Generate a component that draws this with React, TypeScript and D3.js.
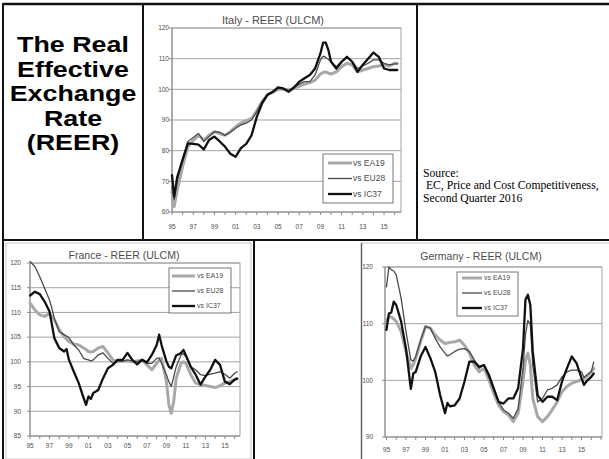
import React from 'react';
import * as d3 from 'd3';

const SERIES_NAMES = ['vs EA19', 'vs EU28', 'vs IC37'];
const X_LABEL_YEARS = [1995, 1997, 1999, 2001, 2003, 2005, 2007, 2009, 2011, 2013, 2015];
const X_LABELS = ['95', '97', '99', '01', '03', '05', '07', '09', '11', '13', '15'];
const TITLE_LINES = ['The Real', 'Effective', 'Exchange', 'Rate', '(REER)'];
const SOURCE_LINES = ['Source:', '\u00a0EC, Price and Cost Competitiveness,', 'Second Quarter 2016'];

// ---- Italy ----
const italyPeriods = [1995.0, 1995.2, 1995.5, 1996.0, 1996.5, 1997.0, 1997.5, 1998.0, 1998.5, 1999.0, 1999.5, 2000.0, 2000.5, 2001.0, 2001.5, 2002.0, 2002.5, 2003.0, 2003.5, 2004.0, 2004.5, 2005.0, 2005.5, 2006.0, 2006.5, 2007.0, 2007.5, 2008.0, 2008.5, 2009.0, 2009.25, 2009.5, 2009.75, 2010.0, 2010.5, 2011.0, 2011.5, 2012.0, 2012.5, 2013.0, 2013.5, 2014.0, 2014.5, 2015.0, 2015.5, 2016.0, 2016.25];
const italyEA19 = [66.6, 61.7, 67.2, 74.8, 81.3, 83.3, 85, 83.5, 85, 86.2, 85.6, 85, 86.2, 87.8, 89, 89.8, 90.5, 93, 96, 98.2, 99, 100, 100, 99.8, 100.3, 101, 101.7, 102.2, 103, 105, 105.5, 105.7, 105.3, 105, 105.7, 107.4, 108.5, 108, 105.7, 106.3, 106.8, 107.4, 107.6, 108, 107.6, 108.5, 108.5];
const italyEU28 = [68.3, 64, 70.4, 77.5, 83, 84.3, 85.6, 83, 84.6, 86.2, 86, 85, 86, 87.3, 88.4, 89, 90, 92.7, 96, 98.2, 99.2, 100.3, 100.3, 99.6, 100.6, 101.7, 102.5, 102.5, 104.7, 109.6, 110.8, 110.4, 109.8, 109, 107.4, 109, 110.4, 109, 106.8, 107.6, 108.5, 109.6, 109.6, 108.5, 108, 108.3, 108.3];
const italyIC37 = [72, 65, 71.5, 77, 82.4, 82.2, 82, 80.4, 83.5, 84.6, 83, 81.3, 79, 78, 80.8, 82.2, 85, 91, 95.4, 98.2, 99.2, 100.6, 100.3, 99.2, 100.6, 102.5, 103.6, 104.7, 106.8, 111.7, 115.2, 115.2, 112.8, 109, 106.8, 109, 110.6, 109, 105.7, 108, 110, 112, 110.6, 106.8, 106.3, 106.3, 106.3];
const italyYTicks = [60, 70, 80, 90, 100, 110, 120];

// ---- France ----
const francePeriods = [1995.0, 1995.5, 1996.0, 1996.5, 1997.0, 1997.25, 1997.5, 1998.0, 1998.5, 1998.75, 1999.0, 1999.5, 2000.0, 2000.5, 2000.75, 2001.0, 2001.25, 2001.5, 2002.0, 2002.5, 2003.0, 2003.5, 2004.0, 2004.5, 2005.0, 2005.5, 2006.0, 2006.5, 2007.0, 2007.5, 2008.0, 2008.25, 2008.5, 2009.0, 2009.25, 2009.5, 2009.75, 2010.0, 2010.5, 2010.75, 2011.0, 2011.5, 2012.0, 2012.5, 2013.0, 2013.5, 2014.0, 2014.5, 2015.0, 2015.5, 2016.0, 2016.25];
const franceEA19 = [111.9, 110.5, 109.5, 109.2, 109.8, 109.2, 108.5, 106.5, 105.1, 104.6, 104.1, 103.6, 103.4, 102.8, 102.5, 102.1, 102, 102.1, 102.8, 103.1, 101.8, 100.4, 100.1, 100.1, 100.2, 100, 100.2, 100.4, 99.4, 98.4, 99.7, 100.3, 100.7, 96, 91.3, 89.6, 92, 96.7, 99.7, 100, 99.7, 97.4, 95.7, 95.4, 95.2, 95, 94.8, 95.2, 95.7, 96, 96.4, 96.6];
const franceEU28 = [120.3, 119.3, 117.2, 114.9, 112.5, 110.8, 108.8, 106.1, 105.5, 105.2, 104.9, 103.4, 102.4, 100.7, 100.5, 100.4, 100.2, 100.4, 101.4, 101.8, 100.7, 99.7, 100.2, 100.1, 100.4, 100.2, 100, 100.4, 99.7, 99.7, 100.7, 100.8, 99.7, 97.4, 96, 95, 97, 99, 101.4, 101.6, 101.1, 99, 98.4, 97.4, 97.2, 97.5, 97.7, 98, 97.5, 96.7, 97.7, 98];
const franceIC37 = [113.4, 114.2, 113.7, 112.2, 110.2, 107.5, 104.8, 102.8, 102.1, 102.6, 100.4, 98, 95.7, 92.7, 91.3, 93, 92.5, 93.7, 94.3, 96.7, 98.7, 99.4, 100.4, 100.4, 101.8, 100.4, 99.5, 100.4, 99.9, 101.4, 103.4, 105.5, 103.4, 100.1, 99, 98.7, 100, 101.3, 101.8, 102.4, 101.3, 99, 97.4, 95.4, 97, 98.4, 100.4, 99.4, 96, 95.5, 96.4, 96.6];
const franceYTicks = [85, 90, 95, 100, 105, 110, 115, 120];

// ---- Germany ----
const germanyPeriods = [1995.0, 1995.25, 1995.5, 1995.75, 1996.0, 1996.5, 1997.0, 1997.5, 1997.75, 1998.0, 1998.5, 1999.0, 1999.5, 2000.0, 2000.5, 2001.0, 2001.25, 2001.5, 2002.0, 2002.5, 2003.0, 2003.5, 2004.0, 2004.5, 2005.0, 2005.5, 2006.0, 2006.5, 2007.0, 2007.5, 2008.0, 2008.5, 2009.0, 2009.25, 2009.5, 2009.75, 2010.0, 2010.5, 2011.0, 2011.5, 2012.0, 2012.5, 2013.0, 2013.5, 2014.0, 2014.5, 2015.0, 2015.25, 2015.5, 2016.0, 2016.25];
const germanyEA19 = [110.4, 111.2, 111.2, 110.8, 110.4, 108.6, 105.1, 102.1, 102.8, 103.9, 106.8, 109.5, 109.2, 108, 107.1, 106.5, 106.6, 106.7, 106.8, 107.1, 106.2, 104.8, 102.7, 101.5, 102.1, 100.1, 97.7, 95.6, 94.5, 93.9, 92.7, 94.2, 99.8, 103.5, 104.8, 102.7, 96.8, 93.6, 92.7, 93.6, 94.8, 96.2, 98, 98.9, 99.5, 99.8, 100.1, 100.3, 100.6, 101.5, 102.1];
const germanyEU28 = [116.5, 120, 119.5, 119.3, 118.6, 114.5, 108.6, 103.6, 103.4, 104.2, 107.1, 109.5, 109.2, 107.4, 105.9, 104.8, 104.3, 104.5, 105.1, 105.5, 105.6, 105.1, 103.6, 102.1, 102.7, 100.6, 98.3, 96.2, 94.8, 94.2, 93.3, 95, 102.1, 108, 110.6, 109.8, 102.7, 96.2, 96.8, 98.3, 98.6, 99.2, 100.6, 101.5, 101.8, 101.8, 101.5, 100.5, 100.9, 101.5, 103.2];
const germanyIC37 = [108.9, 111.8, 112, 113.9, 113.3, 110.4, 105.6, 98.5, 101.2, 101.5, 104.2, 105.9, 103.9, 101.5, 97.4, 94.2, 96, 95.4, 95.6, 96.8, 99.8, 103.3, 103.3, 102.4, 102.7, 101, 98.6, 96.2, 95.9, 96.8, 96.8, 98.6, 105.6, 114.2, 115.1, 113.3, 105.1, 97.4, 96.2, 97.1, 97.1, 96.5, 99.8, 102.1, 104.2, 103, 100.4, 99.2, 99.8, 100.6, 101.2];
const germanyYTicks = [90, 100, 110, 120];

const SERIES_STYLE = [
  { stroke: '#a8a8a8', width: 3 },
  { stroke: '#4a4a4a', width: 1.3 },
  { stroke: '#111111', width: 2.3 },
];

const FONT = 'Arial, "Liberation Sans", Helvetica, sans-serif';
const TEXT_COLOR = '#4d4d4d';

type PanelProps = {
  title: string;
  titleX: number;
  titleY: number;
  titleSize: number;
  periods: number[];
  series: number[][];
  xDomain: [number, number];
  xRange: [number, number];
  yDomain: [number, number];
  yRange: [number, number];
  yTicks: number[];
  yLabelX: number;
  xLabelY: number;
  legend: { x: number; y: number; w: number; h: number; rows: number[]; lineX0: number; lineX1: number; textX: number; size: number };
};

function Panel(p: PanelProps) {
  const x = d3.scaleLinear().domain(p.xDomain).range(p.xRange);
  const y = d3.scaleLinear().domain(p.yDomain).range(p.yRange);
  const [xl, xr] = p.xRange;
  const [yb, yt] = p.yRange;
  const years = d3.range(1995, Math.floor(p.xDomain[1]) + 1);
  const line = d3
    .line<number>()
    .x((_, i) => x(p.periods[i]))
    .y((v) => y(v))
    .curve(d3.curveLinear);
  return (
    <g>
      <text x={p.titleX} y={p.titleY} textAnchor="middle" fontFamily={FONT} fontSize={p.titleSize} fill={TEXT_COLOR}>
        {p.title}
      </text>
      {p.yTicks.map((t) => (
        <g key={'g' + t}>
          {t !== p.yDomain[0] && (
            <line x1={xl} x2={xr} y1={y(t)} y2={y(t)} stroke="#a3a3a3" strokeWidth={1} />
          )}
          <line x1={xl - 3} x2={xl} y1={y(t)} y2={y(t)} stroke="#888" strokeWidth={1} />
          <text x={p.yLabelX} y={y(t) + 2.3} textAnchor="end" fontFamily={FONT} fontSize={6.5} fill={TEXT_COLOR}>
            {t}
          </text>
        </g>
      ))}
      <rect x={xl} y={yt} width={xr - xl} height={yb - yt} fill="none" stroke="#a3a3a3" strokeWidth={1} />
      <line x1={xl} x2={xr} y1={yb} y2={yb} stroke="#888" strokeWidth={1} />
      <line x1={xl} x2={xl} y1={yt} y2={yb} stroke="#888" strokeWidth={1} />
      {years.map((yr) => (
        <line key={'t' + yr} x1={x(yr)} x2={x(yr)} y1={yb} y2={yb + 3} stroke="#888" strokeWidth={1} />
      ))}
      {X_LABEL_YEARS.map((yr, i) => (
        <text key={'xl' + yr} x={x(yr)} y={p.xLabelY} textAnchor="middle" fontFamily={FONT} fontSize={6.5} fill={TEXT_COLOR}>
          {X_LABELS[i]}
        </text>
      ))}
      {p.series.map((s, i) => (
        <path
          key={'s' + i}
          d={line(s) || ''}
          fill="none"
          stroke={SERIES_STYLE[i].stroke}
          strokeWidth={SERIES_STYLE[i].width}
          strokeLinejoin="round"
          strokeLinecap="round"
        />
      ))}
      <rect x={p.legend.x} y={p.legend.y} width={p.legend.w} height={p.legend.h} fill="#fff" stroke="#555" strokeWidth={0.8} />
      {SERIES_NAMES.map((n, i) => (
        <g key={'lg' + i}>
          <line
            x1={p.legend.lineX0}
            x2={p.legend.lineX1}
            y1={p.legend.rows[i]}
            y2={p.legend.rows[i]}
            stroke={SERIES_STYLE[i].stroke}
            strokeWidth={SERIES_STYLE[i].width}
          />
          <text x={p.legend.textX} y={p.legend.rows[i] + p.legend.size * 0.35} fontFamily={FONT} fontSize={p.legend.size} fill={TEXT_COLOR}>
            {n}
          </text>
        </g>
      ))}
    </g>
  );
}

export default function App() {
  return (
    <svg
      width={609}
      height={459}
      style={{ position: 'absolute', left: 0, top: 0, background: '#fff' }}
    >
      <rect x={0} y={0} width={609} height={459} fill="#fff" />
      {/* chart area frames */}
      <rect x={6} y={243} width={245} height={216} fill="none" stroke="#c8c8c8" strokeWidth={1} />
      <rect x={361.5} y={243} width={248} height={217} fill="none" stroke="#c8c8c8" strokeWidth={1} />
      <line x1={361.5} x2={361.5} y1={243} y2={459} stroke="#666" strokeWidth={1.5} />

      {/* left title */}
      {TITLE_LINES.map((t, i) => (
        <g key={'tl' + i} transform={`translate(73, ${52 + i * 24.6}) scale(1.22, 1)`}>
          <text x={0} y={0} textAnchor="middle" fontFamily={FONT} fontWeight="bold" fontSize={22} fill="#000">
            {t}
          </text>
        </g>
      ))}

      {/* source */}
      {SOURCE_LINES.map((t, i) => (
        <text key={'src' + i} x={423} y={177 + i * 12.3} fontFamily='"Liberation Serif", "Times New Roman", serif' fontSize={11.7} fill="#000">
          {t}
        </text>
      ))}

      <Panel
        title="Italy - REER (ULCM)"
        titleX={273}
        titleY={24}
        titleSize={11}
        periods={italyPeriods}
        series={[italyEA19, italyEU28, italyIC37]}
        xDomain={[1995, 2016.6]}
        xRange={[172, 401]}
        yDomain={[60, 120]}
        yRange={[212, 28]}
        yTicks={italyYTicks}
        yLabelX={169}
        xLabelY={228.5}
        legend={{ x: 323, y: 154, w: 70, h: 49, rows: [163, 178.5, 194], lineX0: 328, lineX1: 352, textX: 353, size: 8.5 }}
      />
      <Panel
        title="France - REER (ULCM)"
        titleX={124}
        titleY={259}
        titleSize={10.5}
        periods={francePeriods}
        series={[franceEA19, franceEU28, franceIC37]}
        xDomain={[1995, 2016.55]}
        xRange={[30, 240]}
        yDomain={[85, 120]}
        yRange={[436, 263]}
        yTicks={franceYTicks}
        yLabelX={21}
        xLabelY={447.5}
        legend={{ x: 169, y: 268, w: 62, h: 45, rows: [276, 291, 306], lineX0: 172, lineX1: 195, textX: 197, size: 7 }}
      />
      <Panel
        title="Germany - REER (ULCM)"
        titleX={481}
        titleY={260}
        titleSize={10.5}
        periods={germanyPeriods}
        series={[germanyEA19, germanyEU28, germanyIC37]}
        xDomain={[1994.85, 2017.1]}
        xRange={[385, 602]}
        yDomain={[90, 120]}
        yRange={[437, 267]}
        yTicks={germanyYTicks}
        yLabelX={373}
        xLabelY={451.5}
        legend={{ x: 457, y: 272, w: 61, h: 44, rows: [278, 293, 308], lineX0: 462, lineX1: 482, textX: 484, size: 7 }}
      />

      {/* table borders */}
      <g stroke="#111" strokeWidth={2}>
        <line x1={3} x2={609} y1={4} y2={4} strokeWidth={2.5} />
        <line x1={3} x2={3} y1={3} y2={459} />
        <line x1={143} x2={143} y1={4} y2={240} />
        <line x1={417} x2={417} y1={4} y2={240} />
        <line x1={3} x2={609} y1={240} y2={240} />
        <line x1={254} x2={254} y1={240} y2={459} />
      </g>
    </svg>
  );
}
